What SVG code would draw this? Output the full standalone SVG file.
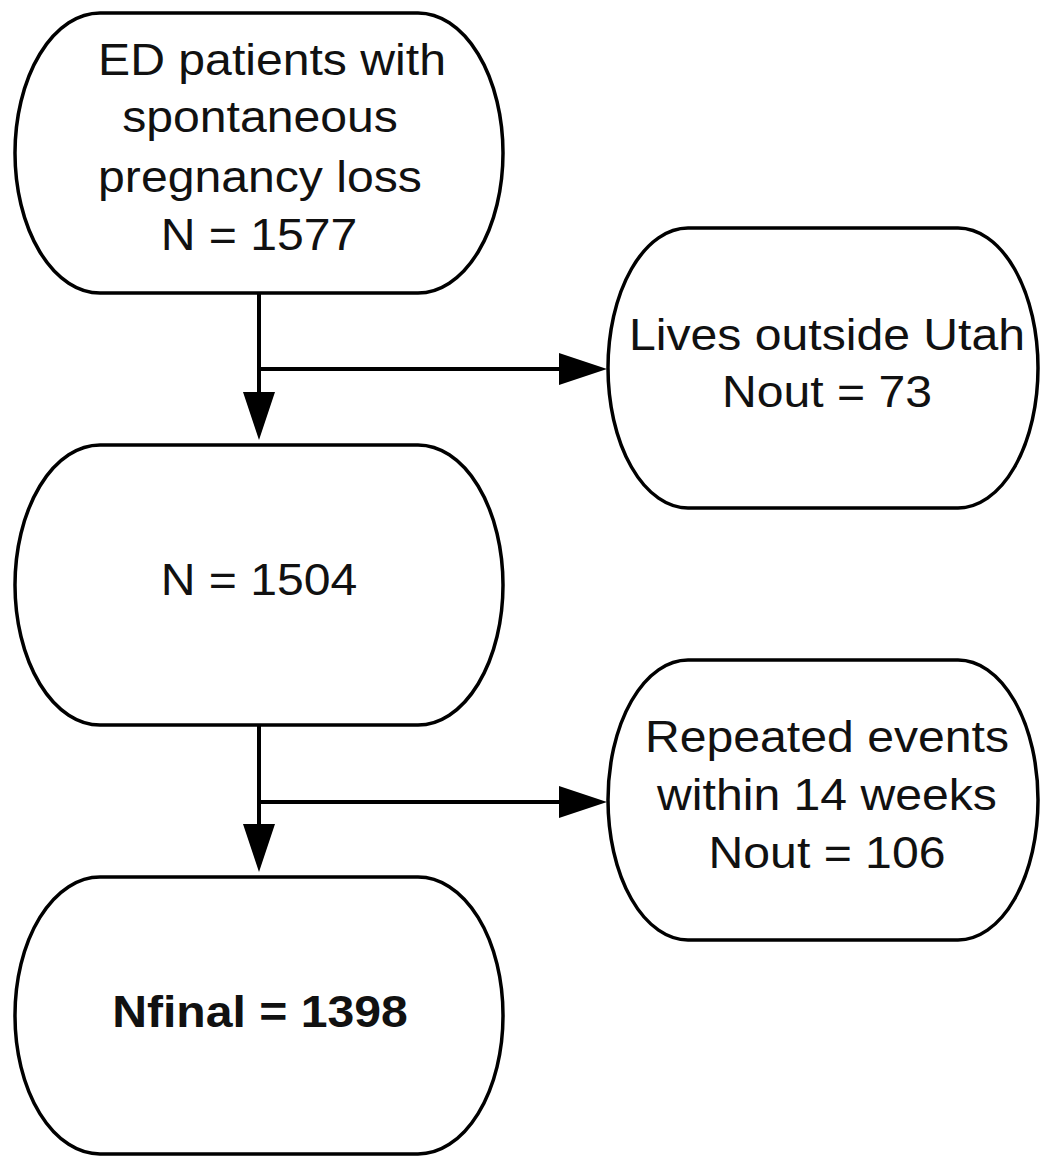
<svg xmlns="http://www.w3.org/2000/svg" width="1040" height="1157" viewBox="0 0 1040 1157">
<style>
.node{fill:#fff;stroke:#000;stroke-width:3.5}
.t{font-family:"Liberation Sans",Arial,sans-serif;font-size:45px;fill:#111;text-anchor:middle}
.b{font-weight:bold}
.conn{stroke:#000;stroke-width:4;fill:none}
</style>
<defs>
<marker id="arr" markerUnits="userSpaceOnUse" markerWidth="48" markerHeight="32" refX="10" refY="16" orient="auto">
<path d="M0,0 L48,16 L0,32 z" fill="#000"/>
</marker>
</defs>
<rect width="1040" height="1157" fill="#fff"/>
<g id="connectors">
<path class="conn" d="M259,293 V402" marker-end="url(#arr)"/>
<path class="conn" d="M259,369 H569" marker-end="url(#arr)"/>
<path class="conn" d="M259,725 V834" marker-end="url(#arr)"/>
<path class="conn" d="M259,802 H569" marker-end="url(#arr)"/>
</g>
<g id="node-start">
<rect class="node" x="15" y="13" width="488" height="280" rx="85" ry="140"/>
<text class="t" transform="translate(272,75) scale(1.07,1)">ED patients with</text>
<text class="t" transform="translate(260,132) scale(1.07,1)">spontaneous</text>
<text class="t" transform="translate(260,192) scale(1.07,1)">pregnancy loss</text>
<text class="t" transform="translate(259,250) scale(1.07,1)">N = 1577</text>
</g>
<g id="node-utah">
<rect class="node" x="608" y="228" width="430" height="280" rx="80" ry="140"/>
<text class="t" transform="translate(827,350) scale(1.07,1)">Lives outside Utah</text>
<text class="t" transform="translate(827,407) scale(1.07,1)">Nout = 73</text>
</g>
<g id="node-1504">
<rect class="node" x="15" y="445" width="488" height="280" rx="85" ry="140"/>
<text class="t" transform="translate(259,595) scale(1.07,1)">N = 1504</text>
</g>
<g id="node-repeated">
<rect class="node" x="608" y="660" width="430" height="280" rx="80" ry="140"/>
<text class="t" transform="translate(827,752) scale(1.07,1)">Repeated events</text>
<text class="t" transform="translate(827,810) scale(1.07,1)">within 14 weeks</text>
<text class="t" transform="translate(827,868) scale(1.07,1)">Nout = 106</text>
</g>
<g id="node-final">
<rect class="node" x="15" y="877" width="488" height="277" rx="85" ry="138"/>
<text class="t b" transform="translate(260,1027) scale(1.07,1)">Nfinal = 1398</text>
</g>
</svg>
